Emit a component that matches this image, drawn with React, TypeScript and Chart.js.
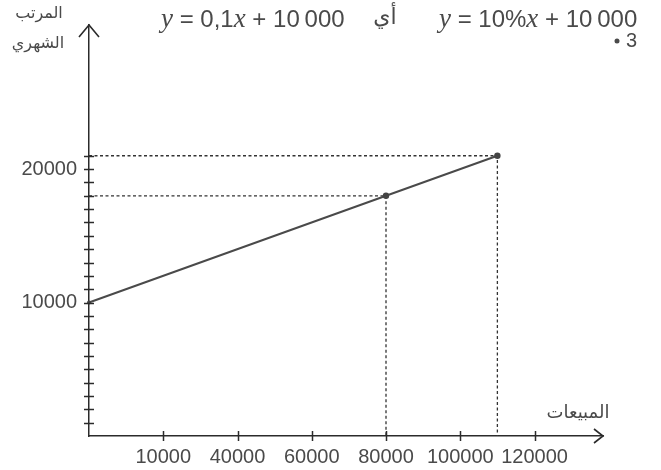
import React, { useEffect, useRef } from "react";
import { Chart, registerables } from "chart.js";

Chart.register(...registerables);

// ---- data ----
const salesValues = [0, 80000, 110000];
const salaryValues = [10000, 18000, 21000];
const markedIndices = [1, 2];

const xTickValues = [20000, 40000, 60000, 80000, 100000, 120000];
const xTickLabels = ["10000", "40000", "60000", "80000", "100000", "120000"];

const yTickStep = 1000;
const yTickTop = 21000;
const yLabelValues = [10000, 20000];
const yLabelTexts = ["10000", "20000"];

const xAxisEnd = 138450;
const yAxisEnd = 30800;

const xTitle = "المبيعات";
const yTitleLines = ["المرتب", "الشهري"];
const formula1 = ["y", " = 0,1", "x", " + 10\u2009000"];
const formula2 = ["y", " = 10%", "x", " + 10\u2009000"];
const connectorWord = "أي";
const itemNumber = "3";

const INK = "#2b2b2b";
const TEXT = "#4a4a4a";

const yTickValues: number[] = [];
for (let v = yTickStep; v <= yTickTop; v += yTickStep) yTickValues.push(v);

const decorPlugin = {
  id: "decor",
  afterDraw(chart: any) {
    const ctx = chart.ctx as CanvasRenderingContext2D;
    const xs = chart.scales.x;
    const ys = chart.scales.y;
    const ca = chart.chartArea;
    ctx.save();
    ctx.strokeStyle = INK;
    ctx.lineWidth = 1.5;
    // crossing ticks on y axis
    yTickValues.forEach((v) => {
      const py = Math.round(ys.getPixelForValue(v)) + 0.5;
      ctx.beginPath();
      ctx.moveTo(ca.left - 5, py);
      ctx.lineTo(ca.left + 5, py);
      ctx.stroke();
    });
    // crossing ticks on x axis
    xTickValues.forEach((v) => {
      const px = Math.round(xs.getPixelForValue(v)) + 0.5;
      ctx.beginPath();
      ctx.moveTo(px, ca.bottom - 5);
      ctx.lineTo(px, ca.bottom + 5);
      ctx.stroke();
    });
    // arrows
    ctx.lineWidth = 1.6;
    ctx.beginPath();
    ctx.moveTo(ca.left - 10, ca.top + 12);
    ctx.lineTo(ca.left, ca.top);
    ctx.lineTo(ca.left + 10, ca.top + 12);
    ctx.stroke();
    ctx.beginPath();
    ctx.moveTo(ca.right - 9, ca.bottom - 7);
    ctx.lineTo(ca.right, ca.bottom);
    ctx.lineTo(ca.right - 9, ca.bottom + 7);
    ctx.stroke();

    // axis titles
    ctx.fillStyle = TEXT;
    ctx.textAlign = "center";
    ctx.textBaseline = "middle";
    ctx.direction = "rtl";
    ctx.font = "16px 'DejaVu Sans'";
    ctx.fillText(yTitleLines[0], 39, 14);
    ctx.fillText(yTitleLines[1], 38, 44);
    ctx.font = "18px 'DejaVu Sans'";
    ctx.fillText(xTitle, 578, 413);
    ctx.font = "22px 'DejaVu Sans'";
    ctx.fillText(connectorWord, 385, 18);
    ctx.direction = "ltr";

    // formulas
    const drawFormula = (parts: string[], startX: number, baseY: number) => {
      let cx = startX;
      ctx.textAlign = "left";
      ctx.textBaseline = "alphabetic";
      parts.forEach((p, i) => {
        ctx.font = i % 2 === 0 ? "italic 27px 'Liberation Serif'" : "24px 'Liberation Sans'";
        ctx.fillText(p, cx, baseY);
        cx += ctx.measureText(p).width;
      });
    };
    drawFormula(formula1, 161, 27);
    drawFormula(formula2, 439, 27);

    ctx.font = "20px 'Liberation Sans'";
    ctx.textAlign = "left";
    ctx.fillText(itemNumber, 626, 47);
    ctx.beginPath();
    ctx.arc(617, 41, 2.5, 0, Math.PI * 2);
    ctx.fill();
    ctx.restore();
  },
};

export default function App() {
  const ref = useRef<HTMLCanvasElement>(null);
  useEffect(() => {
    if (!ref.current) return;
    const lineData = salesValues.map((x, i) => ({ x, y: salaryValues[i] }));
    const guides = markedIndices.map((i) => ({
      data: [
        { x: 0, y: salaryValues[i] },
        { x: salesValues[i], y: salaryValues[i] },
        { x: salesValues[i], y: 0 },
      ],
      showLine: true,
      borderColor: "#333",
      borderWidth: 1.3,
      borderDash: [3, 2.5],
      pointRadius: 0,
      clip: false as any,
      order: 2,
    }));
    const chart = new Chart(ref.current, {
      type: "scatter",
      data: {
        datasets: [
          {
            data: lineData,
            showLine: true,
            borderColor: "#4a4a4a",
            borderWidth: 2,
            pointRadius: [2, 3.2, 3.2],
            pointBackgroundColor: "#444",
            pointBorderWidth: 0,
            clip: false as any,
            order: 1,
          },
          ...guides,
        ],
      },
      options: {
        responsive: false,
        animation: false,
        events: [],
        layout: { padding: { top: 25, right: 58, left: 0, bottom: 0 } },
        plugins: { legend: { display: false }, tooltip: { enabled: false } },
        scales: {
          x: {
            type: "linear",
            position: "bottom",
            min: 0,
            max: xAxisEnd,
            grid: { display: false, drawTicks: false },
            border: { display: true, color: INK, width: 1.5 },
            ticks: {
              autoSkip: false,
              maxRotation: 0,
              padding: 9,
              color: TEXT,
              font: { family: "'Liberation Sans'", size: 20 },
              callback: (v: any) => {
                const k = xTickValues.indexOf(Number(v));
                return k >= 0 ? xTickLabels[k] : "";
              },
            },
            afterBuildTicks: (s: any) => {
              s.ticks = xTickValues.map((value) => ({ value }));
            },
            afterFit: (s: any) => {
              s.height = 34;
            },
          },
          y: {
            type: "linear",
            position: "left",
            min: 0,
            max: yAxisEnd,
            grid: { display: false, drawTicks: false },
            border: { display: true, color: INK, width: 1.5 },
            ticks: {
              autoSkip: false,
              padding: 12,
              color: TEXT,
              font: { family: "'Liberation Sans'", size: 20 },
              callback: (v: any) => {
                const k = yLabelValues.indexOf(Number(v));
                return k >= 0 ? yLabelTexts[k] : "";
              },
            },
            afterBuildTicks: (s: any) => {
              s.ticks = yTickValues.map((value) => ({ value }));
            },
            afterFit: (s: any) => {
              s.width = 89;
            },
          },
        },
      },
      plugins: [decorPlugin],
    });
    return () => chart.destroy();
  }, []);
  return (
    <div style={{ position: "fixed", left: 0, top: 0, width: 661, height: 470, background: "#fff" }}>
      <canvas ref={ref} width={661} height={470} style={{ display: "block", width: 661, height: 470 }} />
    </div>
  );
}
